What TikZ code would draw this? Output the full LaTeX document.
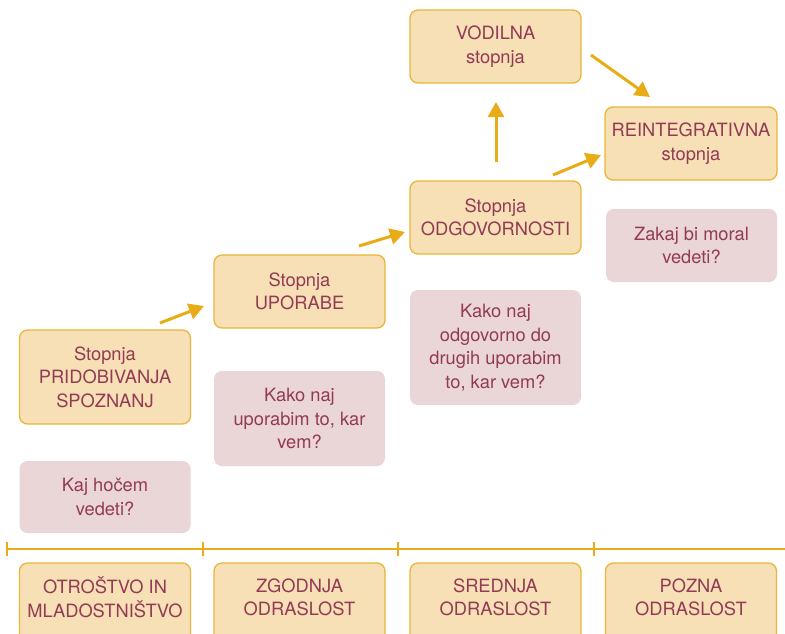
\documentclass[tikz,border=0pt]{standalone}
\usepackage{fontspec}
\setmainfont{TeX Gyre Heros}
\usetikzlibrary{arrows.meta}

\definecolor{stagefill}{HTML}{F7E0B5}
\definecolor{stageedge}{HTML}{E9B53A}
\definecolor{questfill}{HTML}{EAD6D6}
\definecolor{labeltext}{HTML}{933A55}
\definecolor{flow}{HTML}{E8AC16}

\tikzset{
  every node/.style={font=\fontsize{18.3}{23.5}\selectfont, text=labeltext, align=center},
  stage/.style={draw=stageedge, fill=stagefill, line width=1.3pt, rounded corners=8pt,
    minimum width=171pt, minimum height=73pt, inner sep=2pt},
  quest/.style={fill=questfill, rounded corners=8pt,
    minimum width=171pt, minimum height=73pt, inner sep=2pt},
  agelabel/.style={minimum width=171pt, minimum height=68pt, inner sep=2pt, anchor=north},
  agebox/.style={draw=stageedge, fill=stagefill, line width=1.3pt, rounded corners=8pt},
  flowarrow/.style={draw=flow, line width=3pt, -{Triangle[length=15pt,width=16pt]}},
  timeline/.style={draw=flow, line width=2.5pt},
}

\begin{document}
\begin{tikzpicture}[x=1pt, y=-1pt]
\useasboundingbox (0,0) rectangle (785,633);

% development stages
\node[stage, minimum height=94pt] (pri) at (105,377) {Stopnja\\PRIDOBIVANJA\\SPOZNANJ};
\node[stage] (upo) at (299.5,291.5) {Stopnja\\UPORABE};
\node[stage] (odg) at (495.5,217.5) {Stopnja\\ODGOVORNOSTI};
\node[stage] (vod) at (495.5,46.5) {VODILNA\\stopnja};
\node[stage, minimum width=172pt] (rei) at (691,143.5) {REINTEGRATIVNA\\stopnja};

% guiding questions
\node[quest, minimum height=72pt] (kaj) at (105,497) {Kaj hočem\\vedeti?};
\node[quest, minimum height=95pt] (kup) at (299.5,418.5) {Kako naj\\uporabim to, kar\\vem?};
\node[quest, minimum height=115pt] (kod) at (495.5,347.5) {Kako naj\\odgovorno do\\drugih uporabim\\to, kar vem?};
\node[quest] (zak) at (691.5,245.5) {Zakaj bi moral\\vedeti?};

% arrow end points between the stages
\coordinate (a1s) at (160,323); \coordinate (a1e) at (204,306);
\coordinate (a2s) at (359,246); \coordinate (a2e) at (405,232);
\coordinate (a3s) at (553,175); \coordinate (a3e) at (601,155);
\coordinate (a4s) at (496,162); \coordinate (a4e) at (496,102);
\coordinate (a5s) at (591,55);  \coordinate (a5e) at (650,97);

\draw[flowarrow] (a1s) -- (a1e);
\draw[flowarrow] (a2s) -- (a2e);
\draw[flowarrow] (a3s) -- (a3e);
\draw[flowarrow] (a4s) -- (a4e);
\draw[flowarrow] (a5s) -- (a5e);

% life-period timeline
\coordinate (t0) at (7,549);
\coordinate (tend) at (785,549);
\draw[timeline] (t0) -- (tend);
\foreach \x in {7,203,398,594} {
  \draw[timeline] (\x,542) -- (\x,556);
}

% life-period boxes, running past the lower edge
\foreach \cx in {105,299.5,495.5,691} {
  \path[agebox] (\cx-85.5,563) rectangle (\cx+85.5,660);
}
\node[agelabel] (p1) at (105,563) {OTROŠTVO IN\\MLADOSTNIŠTVO};
\node[agelabel] (p2) at (299.5,563) {ZGODNJA\\ODRASLOST};
\node[agelabel] (p3) at (495.5,563) {SREDNJA\\ODRASLOST};
\node[agelabel] (p4) at (691,563) {POZNA\\ODRASLOST};
\end{tikzpicture}
\end{document}
